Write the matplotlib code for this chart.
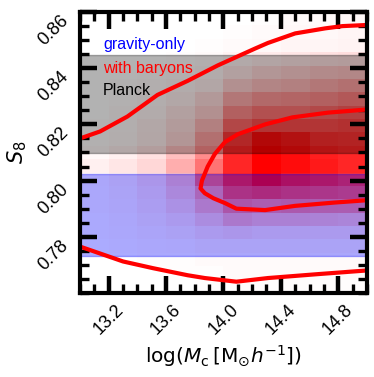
import numpy as np
import matplotlib
matplotlib.use('Agg')
import matplotlib.pyplot as plt
from matplotlib.colors import LinearSegmentedColormap

plt.rcParams['mathtext.fontset'] = 'dejavusans'

# histogram bins of the "with baryons" posterior
mc_edges = np.linspace(13.0, 15.0, 11)
s8_edges = np.linspace(0.76, 0.86, 22)

# density per cell, rows from low S8 (bottom) to high S8 (top)
dens = np.array([
    [0.00, 0.00, 0.00, 0.00, 0.01, 0.01, 0.01, 0.01, 0.01, 0.01],
    [0.00, 0.00, 0.00, 0.01, 0.01, 0.02, 0.02, 0.02, 0.02, 0.02],
    [0.00, 0.00, 0.01, 0.01, 0.02, 0.02, 0.02, 0.02, 0.02, 0.02],
    [0.00, 0.01, 0.02, 0.03, 0.05, 0.05, 0.05, 0.05, 0.05, 0.05],
    [0.01, 0.02, 0.04, 0.06, 0.10, 0.12, 0.10, 0.10, 0.10, 0.10],
    [0.01, 0.03, 0.06, 0.10, 0.18, 0.30, 0.25, 0.25, 0.24, 0.22],
    [0.02, 0.04, 0.08, 0.15, 0.30, 0.50, 0.45, 0.48, 0.46, 0.45],
    [0.02, 0.05, 0.10, 0.20, 0.40, 0.70, 0.75, 0.70, 0.68, 0.65],
    [0.03, 0.06, 0.12, 0.25, 0.60, 0.86, 1.00, 0.90, 0.86, 0.80],
    [0.06, 0.10, 0.16, 0.32, 0.55, 0.85, 1.00, 0.95, 0.90, 0.85],
    [0.03, 0.06, 0.12, 0.25, 0.45, 0.85, 1.00, 0.95, 0.88, 0.85],
    [0.01, 0.03, 0.07, 0.16, 0.37, 0.78, 0.95, 0.90, 0.82, 0.80],
    [0.01, 0.02, 0.06, 0.13, 0.28, 0.60, 0.70, 0.70, 0.70, 0.73],
    [0.00, 0.02, 0.04, 0.10, 0.19, 0.46, 0.55, 0.55, 0.59, 0.64],
    [0.00, 0.01, 0.03, 0.06, 0.14, 0.33, 0.41, 0.43, 0.46, 0.50],
    [0.00, 0.01, 0.02, 0.04, 0.07, 0.19, 0.25, 0.28, 0.33, 0.37],
    [0.00, 0.00, 0.01, 0.02, 0.04, 0.10, 0.16, 0.19, 0.22, 0.24],
    [0.00, 0.00, 0.00, 0.01, 0.02, 0.05, 0.08, 0.10, 0.12, 0.13],
    [0.00, 0.00, 0.00, 0.00, 0.01, 0.02, 0.03, 0.04, 0.04, 0.05],
    [0.00, 0.00, 0.00, 0.00, 0.00, 0.01, 0.02, 0.03, 0.03, 0.04],
    [0.00, 0.00, 0.00, 0.00, 0.00, 0.00, 0.01, 0.02, 0.02, 0.03],
])

# contours
outer_top_x = [13.0, 13.14, 13.33, 13.54, 13.75, 13.96, 14.22, 14.31, 14.50, 14.71, 14.83, 15.0]
outer_top_y = [0.8150, 0.8175, 0.8228, 0.8305, 0.8355, 0.8410, 0.8470, 0.8490, 0.8524, 0.8542, 0.8550, 0.8554]
outer_bot_x = [13.0, 13.30, 13.51, 13.75, 13.87, 14.09, 14.31, 14.66, 15.0]
outer_bot_y = [0.7765, 0.7712, 0.7688, 0.7663, 0.7653, 0.7640, 0.7653, 0.7667, 0.7680]
inner_x = [15.0, 14.73, 14.48, 14.29, 14.10, 14.01, 13.94, 13.89, 13.85, 13.84, 13.87,
           13.93, 14.01, 14.09, 14.29, 14.50, 14.78, 15.0]
inner_y = [0.8253, 0.8242, 0.8225, 0.8200, 0.8165, 0.8137, 0.8095, 0.8050, 0.8000, 0.7972, 0.7955,
           0.7937, 0.7920, 0.7900, 0.7895, 0.7910, 0.7922, 0.7930]

planck_band = (0.8098, 0.8446)
gravity_band = (0.7730, 0.8022)

fig = plt.figure(figsize=(3.74, 3.77), dpi=100)
ax = fig.add_axes([0.214, 0.223, 0.767, 0.745])

cmap = LinearSegmentedColormap.from_list('wr', ['white', 'red'])
ax.pcolormesh(mc_edges, s8_edges, dens, cmap=cmap, vmin=0, vmax=1, zorder=0)

ax.axhspan(*planck_band, facecolor='k', edgecolor='k', alpha=0.3, lw=1, zorder=1)
ax.axhspan(*gravity_band, facecolor='b', edgecolor='b', alpha=0.33, lw=1, zorder=1)

for xs, ys in [(outer_top_x, outer_top_y), (outer_bot_x, outer_bot_y), (inner_x, inner_y)]:
    ax.plot(xs, ys, color='red', lw=3, zorder=3, solid_capstyle='butt')

ax.set_xlim(13.0, 15.0)
ax.set_ylim(0.76, 0.86)
ax.set_xticks([13.2, 13.6, 14.0, 14.4, 14.8])
ax.set_yticks([0.78, 0.80, 0.82, 0.84, 0.86])
ax.set_xticks(np.arange(13.0, 15.01, 0.1), minor=True)
ax.set_yticks(np.arange(0.76, 0.861, 0.005), minor=True)
ax.set_xticklabels(['13.2', '13.6', '14.0', '14.4', '14.8'], rotation=45,
                   fontsize=13, family='Liberation Sans')
ax.set_yticklabels(['0.78', '0.80', '0.82', '0.84', '0.86'], rotation=45,
                   fontsize=13, family='Liberation Sans', va='top')
ax.tick_params(which='both', direction='in', top=True, right=True)
ax.tick_params(which='major', length=12, width=3.2, pad=6)
ax.tick_params(which='minor', length=6.5, width=2.4)
for sp in ax.spines.values():
    sp.set_linewidth(3)
    sp.set_zorder(5)

ax.set_xlabel(r'log($M_{\rm c}\,[{\rm M}_{\odot}h^{-1}]$)', fontsize=14.5)
ax.set_ylabel(r'$S_8$', fontsize=15)

ax.text(0.08, 0.883, 'gravity-only', color='blue', fontsize=11.5, family='Liberation Sans',
        transform=ax.transAxes, va='center', zorder=6)
ax.text(0.08, 0.80, 'with baryons', color='red', fontsize=11.5, family='Liberation Sans',
        transform=ax.transAxes, va='center', zorder=6)
ax.text(0.08, 0.722, 'Planck', color='black', fontsize=11.5, family='Liberation Sans',
        transform=ax.transAxes, va='center', zorder=6)

fig.savefig('out.png', dpi=100)
